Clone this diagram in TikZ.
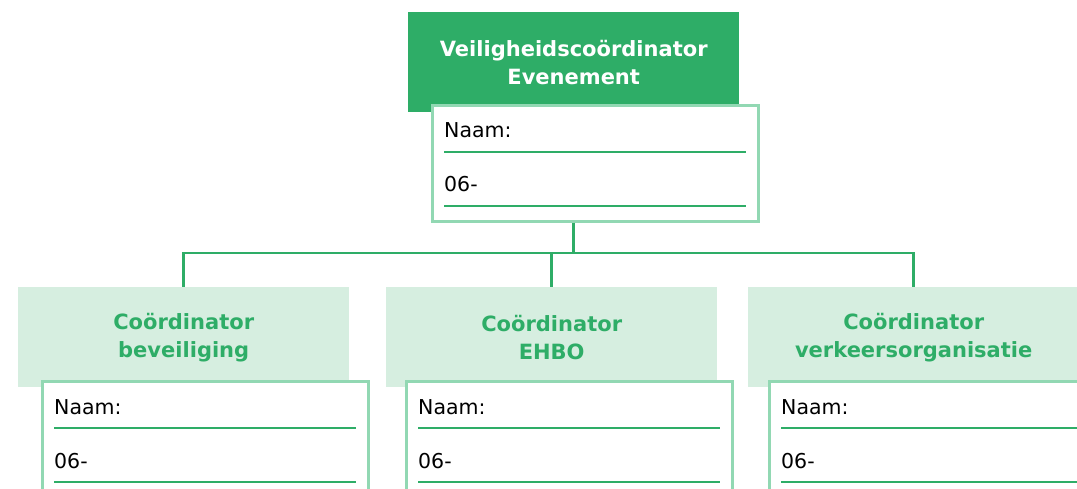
\documentclass[tikz,border=0pt]{standalone}
\usepackage{fontspec}
\setmainfont{DejaVu Sans}
\definecolor{dkgreen}{HTML}{2EAD67}
\definecolor{ltfill}{HTML}{D6EEE0}
\definecolor{bordergreen}{HTML}{92D8B3}
\begin{document}
\begin{tikzpicture}[x=1pt,y=-1pt,
  darkbox/.style={fill=dkgreen, text=white, font=\bfseries\fontsize{21}{28}\selectfont,
    align=center, minimum width=331pt, minimum height=100pt, inner sep=0pt, anchor=north west},
  lightbox/.style={fill=ltfill, text=dkgreen, font=\bfseries\fontsize{21}{28}\selectfont,
    align=center, minimum width=331pt, minimum height=100pt, inner sep=0pt, anchor=north west},
  formbox/.style={draw=bordergreen, line width=2.6pt, fill=white, minimum width=326pt,
    minimum height=116pt, inner sep=0pt, anchor=north west},
  field/.style={font=\fontsize{20.5}{24}\selectfont, text=black, inner sep=0pt, anchor=base west},
  uline/.style={draw=dkgreen, line width=1.6pt},
  conn/.style={draw=dkgreen, line width=2.8pt}]
\useasboundingbox (0,0) rectangle (1077,489);
\clip (0,0) rectangle (1077,489);
% top
\node[darkbox] (top) at (408,12) {Veiligheidscoördinator\\Evenement};
\node[formbox] (topform) at (431,104) {};
% bottom
\node[lightbox] (b1) at (18,287) {Coördinator\\beveiliging};
\node[formbox] (f1) at (41,380) {};
\node[lightbox] (b2) at (386,287) {Coördinator\\EHBO};
\node[formbox] (f2) at (405,380) {};
\node[lightbox] (b3) at (748,287) {Coördinator\\verkeersorganisatie};
\node[formbox] (f3) at (768,380) {};
% form contents
\foreach \f in {topform,f1,f2,f3}{
  \node[field] (\f-name) at ([xshift=13pt,yshift=-34pt]\f.north west) {Naam:};
  \node[field] (\f-tel) at ([xshift=13pt,yshift=-88pt]\f.north west) {06-};
  \draw[uline] ([xshift=13pt,yshift=-48pt]\f.north west) -- ([xshift=-14pt,yshift=-48pt]\f.north east);
  \draw[uline] ([xshift=13pt,yshift=-102pt]\f.north west) -- ([xshift=-14pt,yshift=-102pt]\f.north east);
}
% connectors
\coordinate (hub) at (573.5,253);
\draw[conn] (topform.south -| hub) -- (hub);
\draw[conn] (b1.north) |- (hub) -| (b3.north);
\draw[conn] (b2.north) -- (b2.north |- hub);
\end{tikzpicture}
\end{document}
